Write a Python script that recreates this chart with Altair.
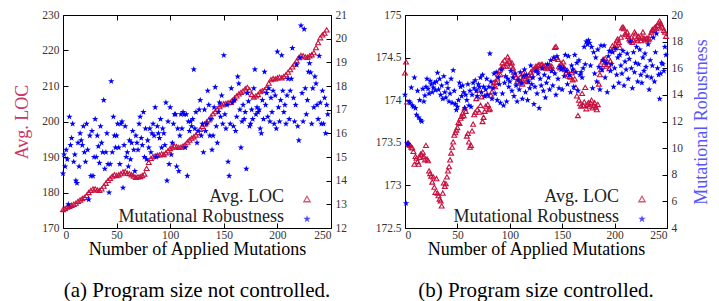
import altair as alt
import pandas as pd

FONT = "Liberation Serif"
RED = "#c8103f"
BLUE = "#0000ff"
STAR = ("M0,-1L0.235,-0.324L0.951,-0.309L0.380,0.124L0.588,0.809L0,0.4"
        "L-0.588,0.809L-0.380,0.124L-0.951,-0.309L-0.235,-0.324Z")

X_TICKS = [0, 50, 100, 150, 200, 250]
A_LOC_TICKS = [170, 180, 190, 200, 210, 220, 230]
A_ROB_TICKS = [12, 13, 14, 15, 16, 17, 18, 19, 20, 21]
B_LOC_TICKS = [172.5, 173, 173.5, 174, 174.5, 175]
B_ROB_TICKS = [4, 6, 8, 10, 12, 14, 16, 18, 20]

X_TITLE = "Number of Applied Mutations"
LOC_TITLE = "Avg. LOC"
ROB_TITLE = "Mutational Robustness"
LEGEND_LABELS = ["Avg. LOC", "Mutational Robustness"]
CAPTIONS = ["(a) Program size not controlled.", "(b) Program size controlled."]

# (a) Avg. LOC, every 2nd mutation (0..246)
A_LOC = [
    175.2, 175.5, 175.9, 176.1, 176.4, 176.7, 177.0, 177.5, 177.9, 178.3,
    178.6, 179.2, 180.0, 180.6, 181.0, 181.0, 180.7, 180.6, 181.0, 181.8,
    182.6, 183.4, 184.0, 184.6, 185.0, 184.8, 185.0, 185.3, 185.8, 185.9,
    185.4, 185.3, 185.0, 184.6, 184.3, 184.4, 184.5, 184.8, 185.2, 186.8,
    188.5, 189.6, 190.1, 190.3, 190.5, 190.6, 190.9, 190.7, 191.2, 191.8,
    192.4, 192.8, 193.1, 192.9, 192.7, 192.8, 193.1, 193.5, 194.2, 194.8,
    195.3, 195.7, 196.2, 196.9, 197.8, 198.6, 199.3, 199.9, 200.5, 201.3,
    202.2, 202.8, 203.5, 204.2, 204.7, 205.0, 205.1, 205.3, 205.4, 206.0,
    206.6, 207.2, 207.8, 208.2, 208.6, 209.2, 209.6, 208.9, 207.6, 206.9,
    207.2, 207.6, 208.4, 208.7, 208.9, 209.6, 210.8, 211.8, 212.1, 212.0,
    212.3, 212.5, 212.3, 212.7, 213.2, 213.9, 214.6, 215.4, 216.2, 217.1,
    218.0, 218.6, 218.5, 218.2, 218.1, 218.5, 218.8, 219.4, 220.8, 222.2,
    223.6, 224.4, 224.9, 225.8,
]
# (a) Mutational Robustness, every mutation (0..247)
A_ROB = [
    14.3, 15.1, 14.6, 15.3, 14.9, 13.0, 16.7, 15.5, 15.8, 16.4,
    14.8, 15.1, 14.0, 13.9, 15.6, 14.6, 16.0, 15.7, 15.5, 16.3,
    15.2, 14.8, 16.4, 15.3, 13.2, 15.9, 14.2, 16.1, 14.2, 15.0,
    16.6, 15.0, 15.9, 15.45, 14.75, 16.3, 15.6, 15.2, 17.4, 14.5,
    15.2, 16.0, 14.7, 13.5, 14.7, 18.2, 15.2, 16.7, 15.9, 15.4,
    15.9, 16.4, 15.4, 14.7, 16.4, 16.5, 13.7, 15.5, 16.3, 15.0,
    15.2, 14.6, 15.7, 14.9, 15.6, 16.1, 15.3, 14.4, 15.9, 15.6,
    15.3, 16.4, 16.7, 15.8, 15.5, 16.9, 15.0, 16.2, 14.9, 15.7,
    15.4, 16.2, 15.2, 16.0, 16.4, 15.9, 17.1, 15.0, 16.3, 16.0,
    15.8, 16.6, 15.4, 16.2, 16.0, 15.5, 17.3, 14.0, 16.5, 14.7,
    17.1, 15.1, 15.6, 16.4, 16.8, 16.8, 14.6, 16.2, 14.4, 15.9,
    16.8, 16.2, 16.9, 16.8, 15.4, 16.8, 14.2, 16.5, 16.1, 16.5,
    16.3, 16.6, 18.7, 16.2, 16.9, 15.6, 16.1, 17.0, 17.4, 15.9,
    16.4, 15.2, 17.0, 16.1, 16.4, 17.8, 17.2, 15.9, 16.6, 15.3,
    15.9, 17.1, 17.95, 16.3, 15.6, 16.9, 17.3, 16.7, 17.6, 16.4,
    19.3, 16.8, 16.2, 17.2, 14.8, 14.2, 16.4, 17.9, 17.3, 16.3,
    17.4, 16.1, 16.7, 18.4, 18.1, 17.0, 15.4, 16.5, 17.2, 16.6,
    16.9, 14.5, 17.7, 17.35, 16.3, 16.4, 17.0, 16.6, 17.9, 18.7,
    16.8, 17.1, 16.9, 17.0, 16.2, 16.0, 17.4, 16.6, 18.6, 17.2,
    17.7, 16.7, 17.9, 16.5, 17.5, 16.9, 17.8, 16.4, 17.6, 16.2,
    19.45, 17.1, 16.5, 17.4, 19.3, 17.8, 16.9, 17.2, 16.4, 17.6,
    18.3, 16.6, 17.8, 18.3, 19.6, 17.5, 16.5, 17.2, 18.9, 16.3,
    15.7, 19.2, 20.55, 17.7, 16.5, 20.4, 17.9, 16.8, 17.4, 18.6,
    18.96, 18.57, 16.4, 17.9, 17.1, 18.4, 18.1, 17.2, 16.6, 19.27,
    17.3, 16.4, 17.8, 16.4, 17.5, 16.0, 17.2, 16.8,
]
# (b) Avg. LOC, every mutation (0..249)
B_LOC = [
    174.32, 174.45, 173.98, 173.50, 173.48, 173.47, 173.45, 173.44, 173.40, 173.25,
    173.34, 173.32, 173.28, 173.25, 173.33, 173.37, 173.36, 173.39, 173.34, 173.30,
    173.47, 173.31, 173.29, 173.17, 173.14, 173.11, 173.04, 173.10, 172.98, 172.92,
    173.08, 172.91, 172.88, 172.84, 172.82, 172.76, 172.91, 173.03, 172.99, 173.02,
    173.10, 173.17, 173.22, 173.30, 173.38, 173.45, 173.51, 173.59, 173.62, 173.65,
    173.68, 173.74, 173.73, 173.79, 173.81, 173.85, 173.82, 173.91, 173.87, 173.58,
    173.61, 173.51, 173.45, 173.47, 173.64, 173.72, 173.83, 173.86, 174.02, 173.89,
    174.12, 173.86, 173.94, 174.04, 173.75, 173.80, 173.87, 173.93, 174.06, 173.95,
    173.89, 173.90, 174.06, 174.10, 174.17, 174.21, 174.16, 174.21, 174.25, 174.30,
    174.35, 174.30, 174.38, 174.44, 174.40, 174.47, 174.40, 174.43, 174.51, 174.46,
    174.45, 174.40, 174.44, 174.38, 174.33, 174.30, 174.27, 174.22, 174.25, 174.20,
    174.27, 174.22, 174.19, 174.32, 174.28, 174.25, 174.23, 174.22, 174.29, 174.27,
    174.33, 174.30, 174.36, 174.36, 174.38, 174.40, 174.36, 174.41, 174.42, 174.39,
    174.42, 174.42, 174.40, 174.38, 174.41, 174.39, 174.37, 174.40, 174.41, 174.38,
    174.40, 174.35, 174.49, 174.62, 174.63, 174.50, 174.48, 174.40, 174.38, 174.43,
    174.40, 174.45, 174.38, 174.36, 174.33, 174.35, 174.30, 174.28, 174.27, 174.32,
    174.24, 174.35, 174.25, 174.15, 174.05, 173.82, 174.00, 173.96, 173.93, 174.08,
    173.94, 173.98, 174.15, 173.90, 173.95, 173.97, 173.93, 173.97, 174.00, 173.91,
    173.94, 173.97, 173.92, 173.89, 173.95, 174.19, 174.30, 174.36, 174.45, 174.48,
    174.42, 174.49, 174.40, 174.45, 174.42, 174.37, 174.46, 174.58, 174.64, 174.60,
    174.62, 174.66, 174.70, 174.72, 174.68, 174.62, 174.74, 174.85, 174.86, 174.84,
    174.78, 174.77, 174.80, 174.75, 174.72, 174.70, 174.74, 174.68, 174.71, 174.80,
    174.78, 174.72, 174.70, 174.75, 174.73, 174.70, 174.74, 174.80, 174.73, 174.71,
    174.72, 174.73, 174.71, 174.72, 174.76, 174.80, 174.83, 174.82, 174.85, 174.86,
    174.84, 174.88, 174.91, 174.93, 174.90, 174.86, 174.85, 174.82, 174.80, 174.75,
]
# (b) Mutational Robustness, every mutation (0..249)
B_ROB = [
    14.0, 5.85, 10.35, 10.3, 13.5, 13.4, 14.55, 13.2, 13.1, 15.3,
    13.0, 12.5, 14.3, 12.3, 13.6, 12.1, 12.0, 14.45, 13.5, 13.95,
    14.6, 15.2, 14.45, 14.1, 15.05, 14.8, 14.2, 14.55, 14.9, 14.35,
    15.0, 15.66, 14.4, 15.2, 14.0, 14.7, 13.7, 15.4, 14.2, 13.8,
    14.9, 14.5, 13.5, 14.1, 15.2, 13.4, 15.85, 14.3, 13.3, 12.87,
    13.1, 13.6, 14.9, 14.6, 13.9, 14.7, 14.2, 13.0, 14.0, 13.6,
    14.8, 13.2, 14.3, 13.1, 14.0, 14.9, 14.5, 15.1, 14.3, 13.9,
    14.8, 14.6, 15.3, 14.2, 15.5, 14.6, 13.9, 14.4, 15.2, 14.0,
    14.6, 17.1, 15.0, 13.7, 14.5, 15.6, 14.1, 15.7, 13.6, 15.3,
    14.8, 13.4, 15.9, 14.1, 13.2, 14.9, 15.4, 13.5, 15.2, 14.6,
    15.0, 15.8, 14.3, 15.3, 13.9, 15.6, 14.7, 13.5, 15.1, 14.4,
    15.7, 14.9, 13.7, 15.4, 15.9, 14.2, 15.5, 13.6, 15.0, 14.5,
    16.2, 14.8, 15.3, 13.3, 14.6, 15.8, 14.1, 15.6, 13.0, 15.2,
    14.7, 16.0, 14.3, 15.5, 13.8, 14.9, 16.3, 15.3, 14.4, 16.6,
    15.8, 14.7, 16.8, 15.6, 14.0, 16.9, 15.2, 14.5, 16.1, 15.9,
    14.4, 16.0, 15.4, 17.0, 15.8, 14.8, 16.9, 15.5, 14.2, 16.2,
    15.9, 14.6, 17.0, 15.7, 16.4, 14.3, 16.6, 15.5, 15.7, 15.3,
    16.0, 17.6, 16.3, 18.0, 17.8, 18.1, 17.9, 16.2, 17.6, 14.5,
    17.2, 15.6, 16.8, 15.0, 17.4, 16.1, 14.4, 17.7, 15.9, 16.6,
    17.7, 15.3, 16.4, 14.2, 16.9, 17.3, 15.8, 16.3, 17.2, 14.6,
    16.0, 17.5, 15.5, 16.8, 14.9, 17.0, 16.2, 15.6, 17.3, 14.7,
    16.5, 15.9, 17.1, 15.2, 16.7, 18.0, 16.0, 14.5, 17.2, 15.7,
    16.4, 17.6, 15.0, 16.3, 17.4, 15.5, 14.9, 16.8, 15.8, 17.1,
    16.1, 15.4, 17.8, 14.4, 16.6, 15.3, 16.2, 18.3, 15.0, 17.2,
    18.6, 16.0, 15.5, 13.7, 15.6, 16.4, 16.3, 15.8, 17.6, 17.0,
]

NEG_TICK = alt.ExprRef(expr="-5")
PLOT_H = 213


def panel(loc_x, loc_v, rob_x, rob_v, loc_dom, loc_ticks, rob_dom, rob_ticks,
          left_title, right_title, caption, w, leg):
    xs = alt.Scale(domain=[0, 250], nice=False)
    tri = alt.Chart(pd.DataFrame({"x": loc_x, "v": loc_v})).mark_point(
        shape="triangle-up", filled=False, color=RED, size=24, strokeWidth=1.1, opacity=1
    ).encode(
        x=alt.X("x:Q", scale=xs, axis=alt.Axis(
            orient="bottom", values=X_TICKS, title=X_TITLE, tickSize=NEG_TICK,
            labelPadding=6, titleFontSize=18, titlePadding=0)),
        y=alt.Y("v:Q", scale=alt.Scale(domain=loc_dom, nice=False, zero=False),
                axis=alt.Axis(orient="left", values=loc_ticks, tickSize=NEG_TICK,
                              labelExpr="'' + datum.value", labelPadding=9,
                              title=left_title, titleColor="#cc3366",
                              titleFontSize=18, titlePadding=10)),
    )
    rob_axis = dict(orient="right", values=rob_ticks, tickSize=NEG_TICK, labelPadding=9)
    if right_title:
        rob_axis.update(title=right_title, titleColor="#5555ff", titleFontSize=18,
                        titleAngle=270, titleBaseline="top", titlePadding=10)
    else:
        rob_axis.update(title=None)
    star = alt.Chart(pd.DataFrame({"x": rob_x, "r": rob_v})).mark_point(
        shape=STAR, filled=True, color=BLUE, size=45, opacity=1
    ).encode(
        x=alt.X("x:Q", scale=xs, axis=alt.Axis(
            orient="top", values=X_TICKS, labels=False, title=None, tickSize=NEG_TICK)),
        y=alt.Y("r:Q", scale=alt.Scale(domain=rob_dom, nice=False, zero=False),
                axis=alt.Axis(**rob_axis)),
    )
    tx, ty1, ty2, sx, sy1, sy2 = leg
    layers = [tri, star]
    for lab, ty in zip(LEGEND_LABELS, [ty1, ty2]):
        layers.append(alt.Chart(pd.DataFrame({"t": [lab]})).mark_text(
            align="right", baseline="alphabetic", font=FONT, fontSize=18, color="#222"
        ).encode(text="t:N", x=alt.value(tx), y=alt.value(ty)))
    layers.append(alt.Chart(pd.DataFrame({"t": [0]})).mark_point(
        shape="triangle-up", filled=False, color=RED, size=40, strokeWidth=1.3
    ).encode(x=alt.value(sx), y=alt.value(sy1)))
    layers.append(alt.Chart(pd.DataFrame({"t": [0]})).mark_point(
        shape=STAR, filled=True, color=BLUE, size=60
    ).encode(x=alt.value(sx), y=alt.value(sy2)))
    return alt.layer(*layers).resolve_scale(y="independent").resolve_axis(
        x="independent").properties(
        width=w, height=PLOT_H,
        title=alt.TitleParams(caption, orient="bottom", anchor="middle", frame="group",
                              font=FONT, fontSize=21, fontWeight="normal",
                              color="black", offset=21))


left = panel([2 * i for i in range(len(A_LOC))], A_LOC, list(range(len(A_ROB))), A_ROB,
             [170, 230], A_LOC_TICKS, [12, 21], A_ROB_TICKS,
             LOC_TITLE, None, CAPTIONS[0], 268,
             (221, 187, 207, 244, 184, 204))
right = panel(list(range(len(B_LOC))), B_LOC, list(range(len(B_ROB))), B_ROB,
              [172.5, 175], B_LOC_TICKS, [4, 20], B_ROB_TICKS,
              None, ROB_TITLE, CAPTIONS[1], 262,
              (214, 187, 207, 237, 184, 204))

chart = alt.hconcat(left, right, spacing=27).properties(
    padding={"left": 5, "top": 0, "right": 0, "bottom": 0}
).configure_view(stroke="black", strokeWidth=1).configure_axis(
    labelFont=FONT, labelFontSize=11.5, labelColor="#333", titleFont=FONT,
    titleFontWeight="normal", tickColor="black", tickWidth=1, domain=False, grid=False
)

chart.save("out.html", embed_options={"renderer": "svg", "actions": False})
